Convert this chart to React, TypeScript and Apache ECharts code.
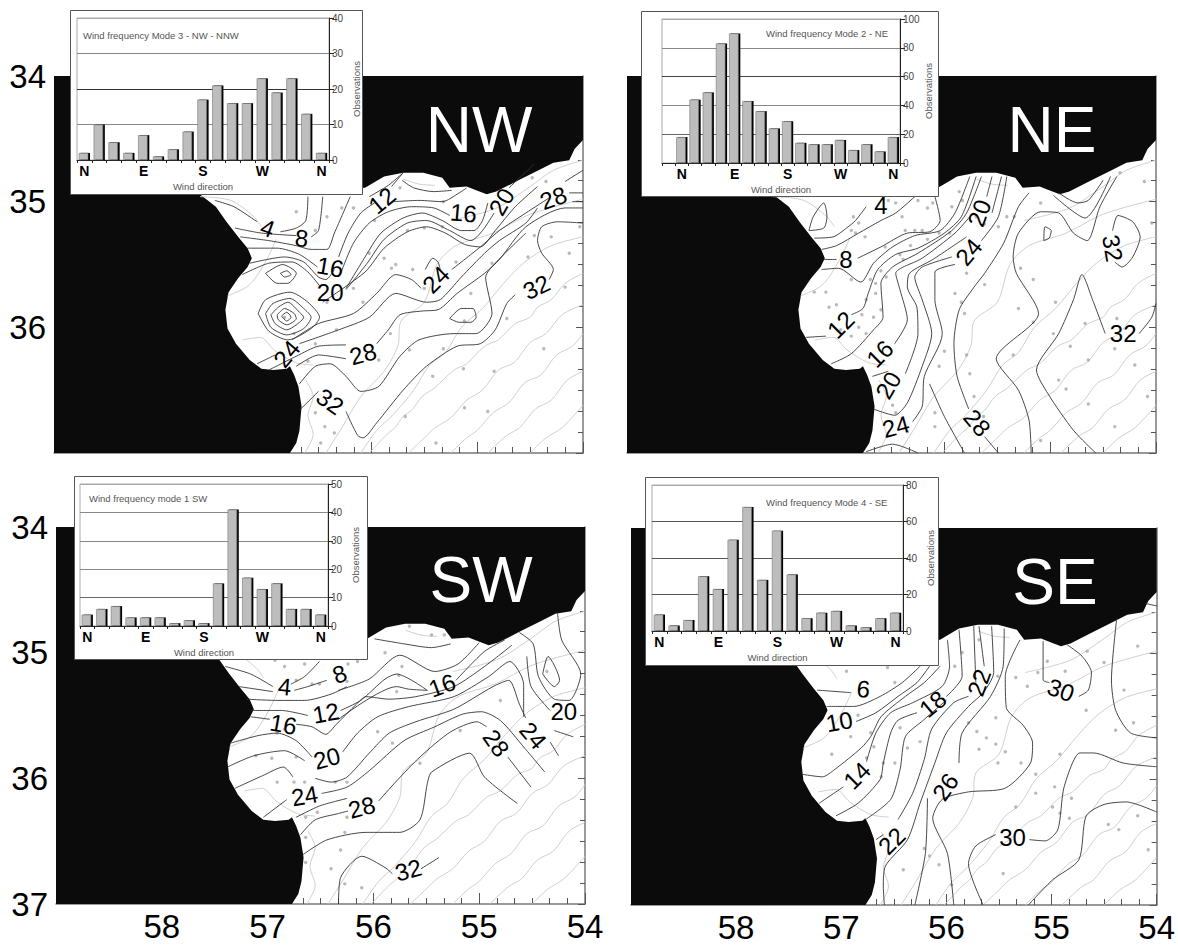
import React, { useEffect, useRef } from "react";
import * as echarts from "echarts";

const FONT = "Liberation Sans, Arial, sans-serif";
type P = number[];

// ---------- coastline (lon, lat) shared by all four maps
const coastline: P[] = [
  [54.0, 34.51],[54.08, 34.58],[54.13, 34.67],[54.28, 34.69],[54.42, 34.75],[54.61, 34.83],[54.82, 34.92],[54.91, 34.94],
  [55.01, 34.91],[55.1, 34.88],[55.26, 34.89],[55.33, 34.81],[55.51, 34.77],[55.7, 34.77],[55.88, 34.8],[56.06, 34.89],
  [57.64, 34.93],[57.47, 35.04],[57.37, 35.16],[57.26, 35.28],[57.17, 35.37],[57.13, 35.45],[57.17, 35.52],[57.26, 35.61],
  [57.35, 35.72],[57.38, 35.86],[57.36, 36.01],[57.28, 36.13],[57.15, 36.26],[57.04, 36.33],[56.93, 36.34],[56.8, 36.33],
  [56.77, 36.31],[56.73, 36.38],[56.69, 36.47],[56.66, 36.63],[56.68, 36.82],[56.71, 36.92],[56.77, 37.0],[59, 37],[59, 34],[54, 34],
];

// ---------- thin grey depth lines shared by all four maps
const bathymetry: P[][] = [
  [[56.02,37],[55.85,36.85],[55.78,36.8],[55.7,36.71],[55.62,36.66],[55.52,36.55],[55.4,36.48],[55.22,36.34],[55.1,36.29],[54.93,36.15],[54.8,36.1],[54.64,35.97],[54.5,35.92],[54.43,35.84],[54.3,35.78],[54.17,35.65],[54,35.57]],
  [[55.65,37],[55.5,36.88],[55.4,36.8],[55.25,36.72],[55.1,36.58],[54.95,36.5],[54.8,36.34],[54.65,36.28],[54.5,36.12],[54.35,36.05],[54.2,35.9],[54,35.82]],
  [[55.25,37],[55.1,36.88],[55,36.82],[54.85,36.68],[54.7,36.6],[54.55,36.44],[54.4,36.38],[54.25,36.22],[54.1,36.15],[54,36.05]],
  [[54.9,37],[54.72,36.86],[54.6,36.8],[54.45,36.65],[54.3,36.58],[54.15,36.42],[54,36.35]],
  [[54.5,37],[54.35,36.88],[54.2,36.8],[54,36.62]],
  [[56.43,37],[56.28,36.8],[56.1,36.55],[55.88,36.35],[55.75,36.15],[55.72,35.95],[55.5,35.8],[55.38,35.5],[55.2,35.35],[54.85,35.25],[54.5,35.1],[54,34.98]],
  [[56.1,37],[55.95,36.82],[55.8,36.7],[55.6,36.5],[55.45,36.3],[55.3,36.2],[55.15,36],[54.95,35.85],[54.75,35.65],[54.55,35.48],[54.3,35.35],[54,35.28]],
  [[57.36,35.75],[57.18,35.68],[57.09,35.6],[56.97,35.43],[56.9,35.3]],
  [[57.22,36.1],[57.05,36.08],[56.92,36.18],[56.72,36.28],[56.55,36.3]],
  [[57.62,34.96],[57.33,34.99],[57.11,35.12],[57.04,35.2]],
  [[54,34.67],[54.28,34.75],[54.5,34.88],[54.79,35.04],[55,35.1],[55.25,35.15]],
  [[55.7,34.82],[55.55,34.86],[55.4,34.87]],
  [[56.63,37],[56.55,36.85],[56.6,36.7],[56.55,36.55],[56.62,36.42]],
];

// ---------- NW map
const nwContours: P[][] = [
  [[57.48,34.99],[57.3,35.04],[57.08,35.16]],
  [[56.86,35.24],[56.71,35.21],[56.62,35.15],[56.6,34.96]],
  [[57.29,35.21],[57.04,35.25],[56.71,35.27]],
  [[56.57,35.28],[56.5,35.23],[56.46,34.96]],
  [[57.24,35.28],[56.97,35.31],[56.71,35.35],[56.57,35.38],[56.42,35.38],[56.35,35.25],[56.2,34.96]],
  [[57.17,35.37],[56.89,35.37],[56.68,35.42],[56.51,35.52]],
  [[56.31,35.44],[56.22,35.25],[56.1,35.09],[55.97,35.01]],
  [[55.81,34.88],[55.7,34.77]],
  [[56.29,35.57],[56.17,35.33],[56.02,35.17],[55.84,35.08],[55.62,35.04],[55.41,35.05],[55.26,35.11]],
  [[56.24,35.69],[56.06,35.44],[55.91,35.25],[55.7,35.13],[55.52,35.09],[55.33,35.15],[55.15,35.23],[55.03,35.23],[54.95,35.15],[54.9,35.01]],
  [[56.24,35.7],[56.04,35.49],[55.88,35.3],[55.66,35.17],[55.48,35.15],[55.26,35.23],[55.06,35.31],[54.95,35.23],[54.84,35.09]],
  [[54.7,34.89],[54.46,34.7]],
  [[56.46,35.8],[56.06,35.56],[55.88,35.37],[55.66,35.24],[55.48,35.2],[55.3,35.25],[55.12,35.34],[54.97,35.36],[54.83,35.23],[54.64,35.04],[54.43,34.88]],
  [[56.75,36.1],[56.5,35.97],[56.17,35.89],[55.95,35.73],[55.77,35.58],[55.62,35.62],[55.53,35.69]],
  [[55.24,35.54],[54.97,35.36],[54.79,35.23],[54.54,35.09],[54.32,34.97]],
  [[54.17,34.84],[54,34.75]],
  [[57.08,36.29],[56.91,36.22]],
  [[56.68,36.13],[56.31,36.02],[56.02,35.92],[55.77,35.73],[55.48,35.8],[55.35,35.78],[55.15,35.6],[54.93,35.41],[54.79,35.31],[54.54,35.17],[54.43,35.05]],
  [[56.97,36.34],[56.71,36.23],[56.5,36.15],[56.24,36.14]],
  [[55.95,36.13],[55.84,36.02],[55.73,35.9],[55.52,35.87],[55.37,35.86],[55.19,35.73],[54.93,35.57],[54.79,35.46],[54.54,35.2],[54.17,35.05],[54,35.05]],
  [[56.71,36.31],[56.5,36.22],[56.24,36.25]],
  [[56.68,36.45],[56.53,36.31],[56.39,36.29],[56.24,36.39],[56.1,36.51],[55.93,36.47],[55.73,36.23],[55.55,36.1],[55.22,36.05],[55.01,36.05],[54.86,35.89],[54.92,35.6],[54.83,35.49],[54.54,35.25]],
  [[55.26,35.93],[55.15,35.85],[55.04,35.85],[55.01,35.92],[55.06,35.96],[55.17,35.96],[55.26,35.93]],
  [[55.49,35.54],[55.42,35.45],[55.37,35.48],[55.35,35.54]],
  [[56.68,36.66],[56.5,36.51]],
  [[56.24,36.67],[56.13,36.86],[56.08,36.88],[55.95,36.76],[55.7,36.5],[55.48,36.31],[55.19,36.15],[54.97,36.13],[54.83,36.02],[54.72,35.81],[54.64,35.74]],
  [[54.32,35.62],[54.28,35.54],[54.39,35.41],[54.43,35.31],[54.39,35.2],[54.24,35.16],[54,35.17]],
  [[54.13,34.93],[54,34.93]],
  [[54.1,35],[54,35]],
  [[57.07,35.89],[57,35.78],[56.77,35.72],[56.6,35.8],[56.49,35.92],[56.57,36.01],[56.79,36.1],[56.97,36.03],[57.07,35.89]],
  [[57,35.89],[56.93,35.81],[56.77,35.77],[56.64,35.85],[56.57,35.92],[56.64,36.01],[56.8,36.06],[56.95,36],[57,35.89]],
  [[56.95,35.9],[56.88,35.84],[56.79,35.8],[56.68,35.88],[56.64,35.92],[56.71,35.98],[56.8,36.02],[56.91,35.97],[56.95,35.9]],
  [[56.89,35.9],[56.82,35.85],[56.73,35.89],[56.71,35.93],[56.8,35.98],[56.88,35.94],[56.89,35.9]],
  [[56.85,35.91],[56.8,35.88],[56.76,35.92],[56.8,35.95],[56.85,35.91]],
  [[57,35.57],[56.84,35.5],[56.71,35.57],[56.79,35.65],[56.89,35.65],[57,35.57]],
  [[56.86,35.57],[56.8,35.55],[56.76,35.58],[56.82,35.6],[56.86,35.57]],
  [[57.22,35.58],[56.97,35.49],[56.75,35.48],[56.6,35.56],[56.48,35.68]],
  [[57.15,35.49],[56.82,35.44],[56.64,35.48],[56.5,35.6],[56.43,35.62],[56.35,35.54]],
  [[56.02,34.96],[55.84,34.87],[55.7,34.77]],
  [[55.71,34.83],[55.6,34.89],[55.41,34.92],[55.24,34.91]],
  [[55.79,35],[55.55,34.99],[55.33,35],[55.17,34.93],[55.1,34.89]],
];
const nwLabelValues: P[] = [[4,56.98,35.21],[8,56.66,35.29],[12,55.9,34.99],[16,56.39,35.52],[16,55.13,35.09],[20,56.39,35.72],[20,54.77,35],[24,56.8,36.21],[24,55.39,35.62],[28,56.08,36.21],[28,54.28,34.97],[32,56.39,36.59],[32,54.44,35.68]];
const nwLabelAngles = [-20,-5,40,-10,-5,0,60,50,45,15,20,-35,25];
const nwStations: P[] = [[56.71,35.08],[56.42,35.12],[56.53,35.23],[56.28,35.05],[56.17,35.05],[55.97,35.15],[55.73,34.89],[55.66,35.23],[55.5,35.21],[55.33,35.2],[55.32,35],[55.81,35.53],[55.61,35.54],[55.5,35.69],[55.2,35.48],[55.06,35.73],[54.86,35.49],[54.46,35.27],[54.3,35.28],[54.13,35.41],[54.52,35.44],[54.03,35.2],[54.48,34.81],[54.35,34.84],[54.72,35.93],[56.17,35.69],[56.08,35.8],[56.42,35.8],[56.33,36.02],[55.82,36.05],[56.53,36.13],[55.93,36.26],[55.64,36.18],[55.32,36.17],[55.13,36.33],[55.42,36.39],[54.84,36.35],[54.37,36.17],[55.68,36.71],[55.12,36.64],[54.9,36.67],[56.53,36.68],[56.44,36.79],[56.35,36.84],[56.48,36.92],[55.39,36.92],[56.82,35.92],[56.73,36.05],[56.6,36.27],[55.12,35.95],[54.17,35.68],[56.02,35.41],[55.88,35.45],[55.77,35.5]];

// ---------- NE map
const neContours: P[][] = [
  [[57.28,35.23],[57.24,35.12],[57.14,35.01],[57.11,35.12],[57.14,35.21],[57.28,35.23]],
  [[57.23,35.29],[57.05,35.28],[56.91,35.2],[56.84,35.15],[56.74,35.04]],
  [[57.16,35.38],[57.02,35.35],[56.81,35.25],[56.6,35.15],[56.46,35.09],[56.28,34.96]],
  [[57.14,35.46],[57.02,35.46]],
  [[56.82,35.45],[56.6,35.36],[56.35,35.25],[56.14,35.24],[56.04,35.15],[56.09,34.96]],
  [[57.16,35.54],[57,35.53],[56.79,35.64],[56.67,35.49],[56.49,35.36],[56.28,35.27],[56.04,35.23],[55.9,35.09],[55.76,34.8]],
  [[57.31,36.08],[57.12,36.07]],
  [[56.88,35.9],[56.77,35.85],[56.72,35.73],[56.63,35.54],[56.46,35.42],[56.25,35.37],[56,35.25],[55.84,35.12],[55.7,34.8]],
  [[57.07,36.29],[56.88,36.21],[56.67,36.02],[56.58,35.92],[56.6,35.65],[56.49,35.52],[56.25,35.41],[55.93,35.23],[55.79,35.09],[55.65,34.8]],
  [[56.47,36.13],[56.35,35.94],[56.42,35.7],[56.46,35.57],[56.21,35.45],[55.9,35.25],[55.76,35.12]],
  [[55.6,34.96],[55.55,34.8]],
  [[56.68,36.39],[56.53,36.35]],
  [[56.37,36.37],[56.25,36.05],[56.26,35.84],[56.35,35.68],[56.33,35.57],[56.11,35.46],[55.79,35.28]],
  [[55.55,35.09],[55.46,34.8]],
  [[56.67,36.65],[56.47,36.7],[56.35,36.6],[56.21,36.31],[56.12,36.05],[56.21,35.78],[56.28,35.6],[56.21,35.52],[55.93,35.44]],
  [[55.65,35.31],[55.49,35.12],[55.41,34.8]],
  [[56.3,36.75],[56.21,36.63],[56.19,36.39],[56.02,36.05],[56.09,35.78],[56.09,35.56],[55.9,35.5]],
  [[56.74,36.99],[56.49,36.93],[56.25,37]],
  [[55.77,36.65],[55.88,36.39],[55.91,36.13],[55.86,35.86],[55.72,35.68],[55.62,35.57],[55.44,35.33],[55.3,35.04],[55.2,34.93]],
  [[55.62,36.87],[55.49,37]],
  [[56.14,36.45],[56,36.71],[55.81,37]],
  [[55.18,37],[55.2,36.74],[55.3,36.5],[55.51,36.25],[55.11,35.89],[55.32,35.57],[55.35,35.44],[55.3,35.25],[55.09,35.08],[54.92,35.09],[54.78,35.25],[54.65,35.31],[54.53,35.04],[54.37,34.8]],
  [[54.57,37],[54.78,36.82],[55.02,36.53],[55.13,36.34],[54.92,36.05],[54.78,35.78],[54.7,35.58],[54.6,35.78],[54.48,36.05]],
  [[54.16,36.05],[54.04,35.92],[54,35.81]],
  [[55.06,35.31],[55.05,35.2],[54.99,35.23],[55.01,35.29],[55.06,35.31]],
  [[54.41,35.23],[54.36,35.11],[54.22,35.16],[54.15,35.28],[54.22,35.44],[54.32,35.52],[54.39,35.48]],
  [[54.92,34.93],[54.74,35.01],[54.64,34.99],[54.5,34.83]],
  [[54.97,34.95],[54.67,35.13],[54.43,34.8]],
];
const neLabelValues: P[] = [[4,56.6,35.03],[8,56.93,35.46],[12,56.98,35.98],[16,56.61,36.21],[20,56.53,36.46],[20,55.67,35.09],[24,55.77,35.4],[24,56.46,36.79],[28,55.69,36.76],[32,54.41,35.37],[32,54.31,36.05]];
const neLabelAngles = [0,0,45,45,60,70,50,15,-50,-80,0];
const neStations: P[] = [[56.88,35.23],[56.84,35.25],[56.75,35.28],[56.86,35.12],[56.81,35.17],[56.53,34.99],[56.46,35.01],[56.4,35.12],[56.37,35.23],[56.25,34.99],[56.16,35.05],[56.11,35.01],[56.21,35.23],[56.7,35.62],[56.65,35.65],[56.74,35.78],[56.65,35.73],[56.67,35.92],[56.74,36.05],[56.81,36],[56.88,36.07],[56.98,36.02],[57.23,35.72],[57.12,35.72],[57.09,35.84],[57.02,35.82],[56.88,35.62],[56.56,35.36],[56.39,35.46],[56.28,35.23],[55.86,34.92],[55.93,35.04],[55.83,34.99],[55.58,35.04],[55.49,35.2],[55.41,35.12],[55.34,35.12],[55.09,35.01],[55.9,35.73],[55.84,35.8],[55.62,35.66],[55.79,35.57],[55.81,35.89],[55.3,35.85],[55.16,35.96],[55.28,35.53],[55.16,35.62],[54.95,35.8],[54.97,36.05],[54.67,35.97],[54.92,36.42],[54.85,36.49],[54.64,36.26],[54.81,36.15],[55.35,36.22],[56,36.19],[56.05,36.31],[55.79,36.22],[55.76,36.37],[56.09,36.68],[56.09,36.79],[56.49,36.62],[56.46,36.68],[56.35,36.83],[54.39,36.79],[54.34,34.77],[54.11,34.84],[54.04,35.17],[54.08,36.55],[54.2,36.3],[54.37,35.93],[54.39,36.17],[54.64,36.61],[55.63,36.71],[55.72,36.55],[55.09,36.9],[56.6,35.55],[56.55,35.6],[56.78,35.9],[56.6,35.86],[56.42,35.42],[56.32,35.35],[56.16,35.3],[56.05,35.25],[55.95,35.25],[55.7,35.12],[55.62,35.18]];

// ---------- SW map
const swContours: P[][] = [
  [[57.4,35.11],[57.16,35.17],[56.95,35.27]],
  [[56.78,35.25],[56.65,35.19],[56.51,35.07]],
  [[57.27,35.27],[56.95,35.31]],
  [[56.75,35.3],[56.62,35.27],[56.44,35.22]],
  [[57.2,35.37],[56.91,35.38],[56.65,35.38],[56.4,35.33],[56.25,35.27]],
  [[56.33,35.3],[56.04,35.21],[55.75,35.02],[55.42,35.15],[55.2,35.09],[55,34.92]],
  [[57.15,35.46],[56.87,35.46],[56.62,35.5]],
  [[56.31,35.46],[56.12,35.38],[55.89,35.21],[55.78,35.17],[55.49,35.3]],
  [[56.33,35.53],[55.78,35.27],[55.67,35.29],[55.49,35.3]],
  [[55.22,35.22],[54.95,34.99],[54.76,34.9]],
  [[57.16,35.51],[56.98,35.53]],
  [[56.73,35.57],[56.58,35.59],[56.45,35.65],[56.35,35.57],[56.16,35.41],[56.07,35.35],[55.85,35.37],[55.6,35.35],[55.24,35.27],[54.95,35.11],[54.69,34.94]],
  [[57.35,35.72],[57.09,35.66],[56.91,35.64],[56.73,35.7],[56.58,35.83]],
  [[56.29,35.79],[56.15,35.64],[55.96,35.51],[55.67,35.43],[55.24,35.35],[54.91,35.19],[54.71,35.07],[54.58,35.25],[54.58,35.51]],
  [[57.38,35.91],[57.13,35.82],[56.84,35.78],[56.65,35.86]],
  [[56.55,36],[56.4,36.03],[56.25,35.99],[56.04,35.8],[55.85,35.64],[55.6,35.55],[55.24,35.45],[54.87,35.27],[54.72,35.22],[54.62,35.41],[54.56,35.52]],
  [[54.33,35.71],[54.25,35.82]],
  [[57.31,36.08],[57.05,35.98],[56.85,35.91],[56.76,35.99]],
  [[56.49,36.12],[56.25,36.07],[56.04,35.94],[55.71,35.7],[55.42,35.59],[55.16,35.49],[54.98,35.47],[54.8,35.54],[54.58,35.75],[54.38,35.95]],
  [[57.04,36.31],[56.82,36.17]],
  [[56.73,36.31],[56.51,36.22],[56.25,36.16]],
  [[55.95,36.18],[55.78,36.02],[55.56,35.83],[55.27,35.63],[55.02,35.55],[54.93,35.59]],
  [[54.73,35.83],[54.51,36.07]],
  [[56.69,36.45],[56.55,36.33],[56.33,36.28],[56.24,36.26]],
  [[56.67,36.61],[56.44,36.49],[56.07,36.43],[55.75,36.43],[55.56,36.33],[55.49,36.04],[55.45,35.95],[55.09,35.8],[54.95,35.99],[54.64,36.2]],
  [[56.33,37],[56.31,36.79],[56.11,36.62],[55.89,36.71],[55.82,36.76]],
  [[55.55,36.72],[55.38,36.63]],
  [[54.4,35.17],[54.35,35.03],[54.24,35.22],[54.29,35.27],[54.4,35.17]],
  [[54.26,34.68],[54.22,34.9],[54.04,35.17],[54.15,35.38],[54.29,35.37],[54.44,35.19],[54.49,34.93],[54.62,34.84]],
  [[54.55,35.03],[54.51,35.27],[54.33,35.46]],
  [[54.29,35.62],[54.11,35.67]],
  [[55.99,34.89],[55.71,34.93],[55.45,34.96],[55.27,34.93]],
];
const swLabelValues: P[] = [[4,56.84,35.27],[8,56.32,35.17],[12,56.45,35.48],[16,56.85,35.57],[16,55.35,35.26],[20,56.44,35.84],[20,54.2,35.47],[24,56.65,36.14],[24,54.49,35.66],[28,56.11,36.23],[28,54.84,35.72],[32,55.67,36.73]];
const swLabelAngles = [-5,20,10,-10,20,15,0,10,-50,15,-55,15];
const swStations: P[] = [[56.93,35.06],[56.84,35.11],[56.65,35.09],[56.24,35.09],[56.15,35.07],[55.89,35],[56.58,35.25],[56.51,35.25],[56.73,35.22],[56.25,35.23],[55.76,35.18],[55.78,35.31],[55.73,35.11],[55.66,34.79],[55.45,34.86],[55.33,34.86],[54.8,35.38],[54.36,35.15],[55.96,35.63],[55.82,35.72],[55.56,35.88],[55.18,35.62],[56.84,35.61],[56.91,35.64],[57.11,35.82],[56.96,35.84],[56.73,35.83],[56.75,36.03],[56.65,36.03],[56.36,36.03],[56.25,36.03],[56.91,36.03],[56.53,36.27],[56.64,36.31],[56.25,36.31],[56.27,36.43],[56.64,36.47],[56.31,36.57],[56.64,36.67],[56.4,36.72],[56.27,36.84],[56.11,36.87]];

// ---------- SE map
const seContours: P[][] = [
  [[57.23,35.29],[56.91,35.31]],
  [[57.14,35.42],[56.88,35.42],[56.63,35.34],[56.42,35.23],[56.25,35.1]],
  [[56.86,35.54],[56.67,35.47],[56.46,35.34],[56.28,35.23],[56.16,35.1]],
  [[57.37,35.96],[57.18,35.98],[57.06,35.92],[56.81,35.75],[56.72,35.66],[56.62,35.5],[56.39,35.34],[56.21,35.23],[56.06,35.1]],
  [[57.21,36.19],[56.98,36.06]],
  [[56.76,35.86],[56.67,35.63],[56.53,35.47],[56.32,35.39],[56.04,35.26],[55.97,35.1],[55.99,34.89]],
  [[57.05,36.29],[56.84,36.19],[56.63,36],[56.6,35.87],[56.53,35.63],[56.46,35.53],[56.28,35.47]],
  [[56,35.34],[55.85,35.18],[55.88,34.81]],
  [[56.77,36.32],[56.53,36.16],[56.44,35.92],[56.39,35.66],[56.22,35.53],[56,35.37]],
  [[55.72,35.23],[55.74,34.78]],
  [[56.46,36.32],[56.32,36.11],[56.21,35.84],[56.14,35.6],[55.93,35.39],[55.79,35.34]],
  [[55.64,35.1],[55.69,34.78]],
  [[56.67,36.48],[56.6,36.44]],
  [[56.59,37],[56.6,36.85],[56.58,36.69],[56.37,36.48],[56.25,36.19],[56.11,35.87],[56,35.63],[55.79,35.42],[55.65,35.31],[55.55,35.15],[55.57,34.78]],
  [[56.3,37],[56.2,36.59],[56.18,36.15]],
  [[55.88,35.87],[55.85,35.63],[55.58,35.34],[55.46,35.1],[55.45,34.8]],
  [[55.65,37],[55.79,36.67],[55.72,36.53],[55.53,36.44]],
  [[55.21,36.48],[55.06,36.49],[54.94,36.4],[54.88,36.06],[54.73,35.79],[54.6,35.79],[54.32,35.87],[54,35.9]],
  [[55.93,37],[55.99,36.59],[56.13,36.31],[56.04,36.16],[55.79,36.1],[55.44,36.07],[55.2,35.87],[55.18,35.71],[55.27,35.57],[55.43,35.43],[55.44,35.18],[55.3,34.89]],
  [[55.08,34.9],[55.08,35.21],[55.02,35.23]],
  [[54.74,35.34],[54.65,35.29],[54.62,35.15],[54.71,35.02],[54.85,34.93]],
  [[54.38,34.72],[54.43,35.21],[54.39,35.45],[54.25,35.63],[54,35.67]],
  [[55.22,37],[54.99,36.8],[54.74,36.64],[54.67,36.29],[54.5,36.2],[54.29,36.18],[54,36.26]],
  [[54.11,34.6],[54,34.62]],
];
const seLabelValues: P[] = [[6,56.79,35.28],[10,57.02,35.54],[14,56.85,35.97],[18,56.13,35.4],[22,55.69,35.23],[22,56.52,36.49],[26,56.01,36.06],[30,55.37,36.46],[30,54.91,35.29]];
const seLabelAngles = [-5,10,45,40,70,45,55,0,-20];
const seStations: P[] = [[56.95,35.14],[56.56,35.11],[56.49,35.23],[56.84,35.49],[56.91,35.66],[57.09,35.8],[56.72,35.63],[56.69,35.74],[56.76,35.83],[56.6,35.87],[56.62,35.98],[56.49,35.87],[56.37,35.75],[56.25,35.7],[56.44,35.59],[55.92,35.1],[55.85,34.99],[55.69,34.89],[55.51,35.18],[55.34,35.19],[55.23,35.26],[55.53,35.51],[55.71,35.62],[55.62,35.67],[55.53,35.72],[55.44,35.78],[55.69,35.76],[55.51,35.87],[55.29,35.87],[55.15,35.96],[54.92,35.8],[55.15,36.11],[54.97,36.06],[55.34,36.22],[54.99,36.22],[54.81,36.15],[54.83,36.31],[54.46,36.36],[54.18,36.29],[54.08,36.56],[54.36,36.4],[55.46,36.75],[56.21,36.55],[56.16,36.61],[56.07,36.68],[56.41,36.72],[55.95,36.84],[55.79,35.55],[55.13,35.15],[55.04,35.06],[54.87,35.14],[54.66,34.98],[54.5,35.07],[54.18,34.94],[54.31,35.29],[54.67,35.45],[54.39,35.61],[54.22,35.55],[54.92,36.27]];

// ---------- wind frequency bars
const compassLabels = ["N","","","","E","","","","S","","","","W","","","","N"];
const nwWind = [2,10,5,2,7,1,3,8,17,21,16,16,23,19,23,13,2];
const neWind = [18,44,49,83,90,43,36,24,29,14,13,13,16,9,13,8,18];
const swWind = [4,6,7,3,3,3,1,2,1,15,41,17,13,15,6,6,4];
const seWind = [9,3,6,30,23,50,68,28,55,31,7,10,11,3,2,7,10];

const layouts = [
  { name: "NW", map: [54, 76], big: [479, 130], box: [70, 10, 292, 184], plot: [77, 18, 252, 142], contours: nwContours, lv: nwLabelValues, la: nwLabelAngles, st: nwStations,
    wind: nwWind as any[], cats: compassLabels, max: 40, step: 10, title: "Wind frequency Mode 3 - NW - NNW", tp: [83, 30], yLab: (v: number) => (v === 37 ? "" : String(v)), xLab: false,
    lines: ["#444","#888","#333","#888","#aaa"] },
  { name: "NE", map: [627, 76], big: [1052, 130], box: [641, 11, 297, 185], plot: [662, 19, 238, 144], contours: neContours, lv: neLabelValues, la: neLabelAngles, st: neStations,
    wind: ["-", ...neWind] as any[], cats: ["", ...compassLabels], max: 100, step: 20, title: "Wind frequency Mode 2 - NE", tp: [766, 28], yLab: null, xLab: false,
    lines: ["#444","#666","#888","#444","#888","#aaa"] },
  { name: "SW", map: [56, 527], big: [481, 580], box: [74, 476, 293, 183], plot: [80, 484, 248, 142], contours: swContours, lv: swLabelValues, la: swLabelAngles, st: swStations,
    wind: swWind as any[], cats: compassLabels, max: 50, step: 10, title: "Wind frequency mode 1 SW", tp: [89, 493], yLab: (v: number) => String(v), xLab: true,
    lines: ["#444","#666","#888","#888","#888","#aaa"] },
  { name: "SE", map: [631, 528], big: [1055, 582], box: [645, 477, 293, 188], plot: [652, 485, 251, 146], contours: seContours, lv: seLabelValues, la: seLabelAngles, st: seStations,
    wind: seWind as any[], cats: compassLabels, max: 80, step: 20, title: "Wind frequency Mode 4 - SE", tp: [766, 497], yLab: null, xLab: true,
    lines: ["#444","#555","#555","#555","#aaa"] },
];

const withGaps = (lines: P[][]) => {
  const out: any[] = [];
  lines.forEach((l) => { l.forEach((p) => out.push(p)); out.push(["-", "-"]); });
  return out;
};

function buildOption() {
  const grid: any[] = [], xAxis: any[] = [], yAxis: any[] = [], series: any[] = [], title: any[] = [], graphic: any[] = [];
  layouts.forEach((p) => {
    const g = grid.length;
    const xi = xAxis.length;
    const yi = yAxis.length;
    grid.push({ left: p.map[0], top: p.map[1], width: 529, height: 377, show: true, backgroundColor: "#fff", borderWidth: 0 });
    xAxis.push({
      gridIndex: g, type: "value", min: 54, max: 59, interval: 1, inverse: true, position: "bottom",
      axisLine: { show: true, onZero: false, lineStyle: { color: "#777", width: 1.5 } },
      axisTick: { show: true, inside: true, length: 11, lineStyle: { color: "#555" } },
      minorTick: { show: true, splitNumber: 6, length: 6, lineStyle: { color: "#555" } },
      splitLine: { show: false },
      axisLabel: { show: p.xLab, fontSize: 33, fontFamily: FONT, color: "#000", margin: 6, formatter: (v: number) => (v === 59 ? "" : String(v)) },
    });
    yAxis.push({
      gridIndex: g, type: "value", min: 34, max: 37, interval: 1, inverse: true, position: "left",
      axisLine: { show: false }, axisTick: { show: false }, splitLine: { show: false },
      axisLabel: { show: !!p.yLab, fontSize: 33, fontFamily: FONT, color: "#000", margin: 8, formatter: p.yLab || undefined },
    });
    yAxis.push({
      gridIndex: g, type: "value", min: 34, max: 37, interval: 1, inverse: true, position: "right",
      axisLine: { show: true, onZero: false, lineStyle: { color: "#777", width: 1.5 } },
      axisTick: { show: true, inside: true, length: 7, lineStyle: { color: "#555" } },
      minorTick: { show: true, splitNumber: 6, length: 5, lineStyle: { color: "#555" } },
      splitLine: { show: false }, axisLabel: { show: false },
    });
    const ax = { xAxisIndex: xi, yAxisIndex: yi };
    series.push({
      ...ax, type: "custom", coordinateSystem: "cartesian2d", silent: true, z: 2, data: [coastline[0]],
      renderItem: (_: any, api: any) => ({
        type: "polygon",
        shape: { points: coastline.map((c) => api.coord(c)) },
        style: { fill: "#0b0b0b" },
      }),
    });
    series.push({ ...ax, type: "line", silent: true, z: 3, showSymbol: false, symbol: "none", smooth: 0.3, connectNulls: false,
      lineStyle: { color: "#cfcfcf", width: 1 }, data: withGaps(bathymetry) });
    series.push({ ...ax, type: "scatter", silent: true, z: 3, symbolSize: 3.4, itemStyle: { color: "#a8a8a8" }, data: p.st });
    series.push({ ...ax, type: "line", silent: true, z: 4, showSymbol: false, symbol: "none", smooth: 0.25, connectNulls: false,
      lineStyle: { color: "#333", width: 0.9 }, data: withGaps(p.contours) });
    series.push({
      ...ax, type: "scatter", silent: true, z: 5, symbolSize: 1, itemStyle: { color: "rgba(0,0,0,0)" },
      label: { show: true, position: "inside", fontSize: 24, fontFamily: FONT, color: "#000", opacity: 1, formatter: "{b}" },
      data: p.lv.map((v, i) => ({ name: String(v[0]), value: [v[1], v[2]], label: { rotate: p.la[i] } })),
    });
    graphic.push({
      type: "text", z: 6, x: p.big[0], y: p.big[1],
      style: { text: p.name, fill: "#fff", font: `64px ${FONT}`, textAlign: "center", textVerticalAlign: "middle" },
    });
    graphic.push({
      type: "rect", z: 8, shape: { x: p.box[0] + 0.5, y: p.box[1] + 0.5, width: p.box[2], height: p.box[3] },
      style: { fill: "#fff", stroke: "#555", lineWidth: 1 },
    });

    const g2 = grid.length;
    const xi2 = xAxis.length;
    const yi2 = yAxis.length;
    grid.push({ left: p.plot[0], top: p.plot[1], width: p.plot[2], height: p.plot[3], show: true, z: 9, backgroundColor: "transparent", borderColor: "#aaa", borderWidth: 1 });
    xAxis.push({
      gridIndex: g2, z: 10, type: "category", data: p.cats, position: "bottom",
      axisLine: { show: true, lineStyle: { color: "#222" } },
      axisTick: { show: true, length: 3, lineStyle: { color: "#222" } },
      axisLabel: { interval: 0, fontFamily: FONT, fontSize: 14, fontWeight: "bold", color: "#000", margin: 4 },
      name: "Wind direction", nameLocation: "middle", nameGap: 21,
      nameTextStyle: { fontFamily: FONT, fontSize: 9.5, color: "#555" },
    });
    yAxis.push({
      gridIndex: g2, z: 10, type: "value", min: 0, max: p.max, interval: p.step, position: "right",
      axisLine: { show: true, onZero: false, lineStyle: { color: "#222" } },
      axisTick: { show: true, length: 5, lineStyle: { color: "#222" } },
      splitLine: { show: true, lineStyle: { color: p.lines, width: 1 } },
      axisLabel: { fontFamily: FONT, fontSize: 10, color: "#444", margin: 3 },
      name: "Observations", nameLocation: "middle", nameRotate: 90, nameGap: 22,
      nameTextStyle: { fontFamily: FONT, fontSize: 9.5, color: "#555" },
    });
    series.push({
      type: "bar", xAxisIndex: xi2, yAxisIndex: yi2, z: 12, silent: true, barWidth: 9.5, barGap: "-82%",
      itemStyle: { color: "#bdbdbd", borderColor: "#777", borderWidth: 0.6 },
      data: p.wind,
    });
    series.push({
      type: "bar", xAxisIndex: xi2, yAxisIndex: yi2, z: 11, silent: true, barWidth: 9.5, barGap: "-82%",
      itemStyle: { color: "#000" },
      data: p.wind,
    });
    title.push({ text: p.title, left: p.tp[0], top: p.tp[1], z: 12, padding: 0,
      textStyle: { fontFamily: FONT, fontSize: 9.5, fontWeight: "normal", color: "#555" } });
  });
  return { animation: false, backgroundColor: "#fff", grid, xAxis, yAxis, series, title, graphic };
}

export default function App() {
  const ref = useRef<HTMLDivElement>(null);
  useEffect(() => {
    const chart = echarts.init(ref.current!, undefined, { renderer: "svg" });
    chart.setOption(buildOption() as any);
    return () => chart.dispose();
  }, []);
  return <div ref={ref} style={{ position: "absolute", left: 0, top: 0, width: 1178, height: 945 }} />;
}
